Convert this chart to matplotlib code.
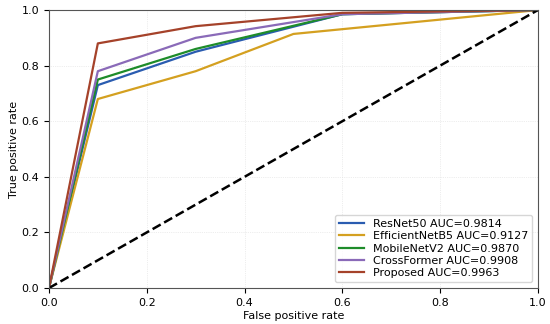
import matplotlib
matplotlib.use("Agg")
import matplotlib.pyplot as plt

# ROC points
names = ['ResNet50', 'EfficientNetB5', 'MobileNetV2', 'CrossFormer', 'Proposed']
aucs = ['0.9814', '0.9127', '0.9870', '0.9908', '0.9963']
fpr = {
    'ResNet50':       [0.0, 0.1, 0.3, 0.6, 1.0],
    'EfficientNetB5': [0.0, 0.1, 0.3, 0.5, 1.0],
    'MobileNetV2':    [0.0, 0.1, 0.3, 0.6, 1.0],
    'CrossFormer':    [0.0, 0.1, 0.3, 0.6, 1.0],
    'Proposed':       [0.0, 0.1, 0.3, 0.6, 1.0],
}
tpr = {
    'ResNet50':       [0.0, 0.73, 0.85, 0.985, 1.0],
    'EfficientNetB5': [0.0, 0.68, 0.78, 0.914, 1.0],
    'MobileNetV2':    [0.0, 0.75, 0.86, 0.985, 1.0],
    'CrossFormer':    [0.0, 0.78, 0.90, 0.985, 1.0],
    'Proposed':       [0.0, 0.88, 0.942, 0.99, 1.0],
}
colors = ['#2a5cb0', '#d4a020', '#1e8c2a', '#8a6ab8', '#a5422a']

fig = plt.figure(figsize=(5.5, 3.24), dpi=100)
ax = fig.add_axes([0.089, 0.111, 0.889, 0.858])

for name, auc, c in zip(names, aucs, colors):
    ax.plot(fpr[name], tpr[name], color=c, lw=1.6, label='%s AUC=%s' % (name, auc))
ax.plot([0, 1], [0, 1], 'k--', lw=1.8)

ax.set_xlim(0, 1)
ax.set_ylim(0, 1)
ax.grid(True, ls=':', lw=0.5, color='#dddddd')
ax.tick_params(labelsize=8)
ax.set_xlabel('False positive rate', fontsize=8, labelpad=2)
ax.set_ylabel('True positive rate', fontsize=8, labelpad=2)
for s in ax.spines.values():
    s.set_color('#555555')
ax.legend(loc='lower right', fontsize=8, handlelength=2.2, labelspacing=0.2, borderpad=0.4)

fig.savefig('out.png', dpi=100)
